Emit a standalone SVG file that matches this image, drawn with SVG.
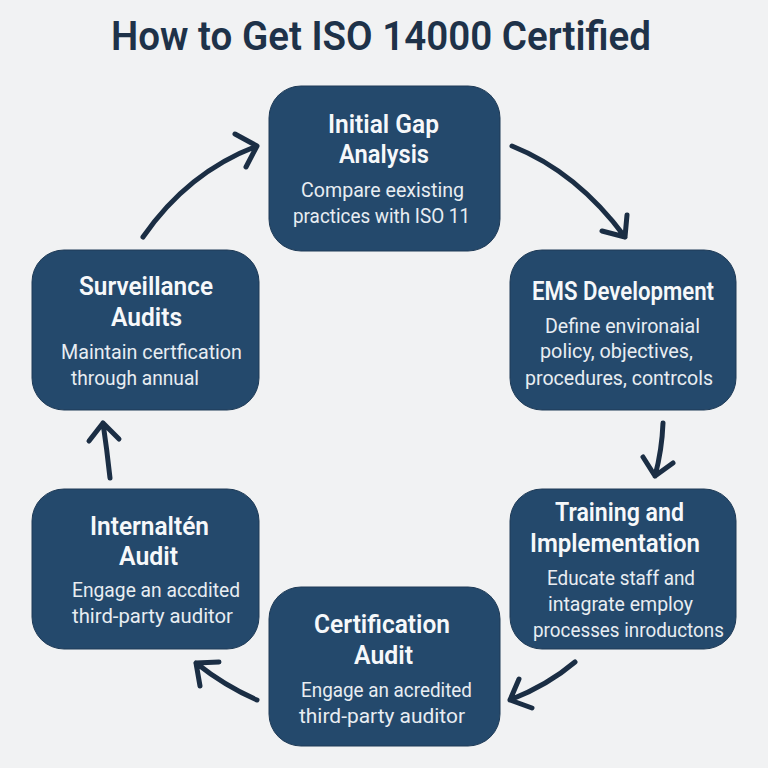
<svg xmlns="http://www.w3.org/2000/svg" width="768" height="768" viewBox="0 0 768 768">
<style>
.box{fill:#24496c;stroke:#1e3a56;stroke-width:1}
.h{font:600 25px Roboto,"Liberation Sans",sans-serif;fill:#f6f8fa}
.b{font:400 21px Roboto,"Liberation Sans",sans-serif;fill:#e8edf2}
.t{font:600 41px Roboto,"Liberation Sans",sans-serif;fill:#1e3249}
.a{fill:none;stroke:#1b2e44;stroke-width:5;stroke-linecap:round;stroke-linejoin:round}
</style>
<rect width="768" height="768" fill="#f1f2f3"/>
<text class="t" x="111" y="50" textLength="540" lengthAdjust="spacingAndGlyphs">How to Get ISO 14000 Certified</text>
<g id="connectors">
<path class="a" d="M512 146Q577 172 625 237M627 215L625 237L602 231"/>
<path class="a" d="M663 423Q662 450 655 476M643 457L655 476L673 463"/>
<path class="a" d="M575 662Q548 685 510 700M519 679L510 700L532 708"/>
<path class="a" d="M257 700Q225 686 196 663M219 662L196 663L200 686"/>
<path class="a" d="M110 478Q107 450 103 423M89 441L103 423L119 439"/>
<path class="a" d="M143 237Q188 172 257 146M235 134L257 146L246 167"/>
</g>
<g id="node-gap-analysis"><rect class="box" x="269" y="86" width="231" height="165" rx="32"/>
<text class="h" x="328" y="133" textLength="111" lengthAdjust="spacingAndGlyphs">Initial Gap</text>
<text class="h" x="339" y="163" textLength="90" lengthAdjust="spacingAndGlyphs">Analysis</text>
<text class="b" x="301" y="197" textLength="163" lengthAdjust="spacingAndGlyphs">Compare eexisting</text>
<text class="b" x="293" y="223" textLength="177" lengthAdjust="spacingAndGlyphs">practices with ISO 11</text></g>
<g id="node-ems"><rect class="box" x="510" y="250" width="226" height="160" rx="32"/>
<text class="h" x="532" y="300" textLength="182" lengthAdjust="spacingAndGlyphs">EMS Development</text>
<text class="b" x="545" y="333" textLength="155" lengthAdjust="spacingAndGlyphs">Define environaial</text>
<text class="b" x="540" y="358" textLength="153" lengthAdjust="spacingAndGlyphs">policy, objectives,</text>
<text class="b" x="525" y="385" textLength="188" lengthAdjust="spacingAndGlyphs">procedures, contrcols</text></g>
<g id="node-training"><rect class="box" x="510" y="489" width="226" height="160" rx="32"/>
<text class="h" x="555" y="521" textLength="129" lengthAdjust="spacingAndGlyphs">Training and</text>
<text class="h" x="530" y="552" textLength="170" lengthAdjust="spacingAndGlyphs">Implementation</text>
<text class="b" x="547" y="585" textLength="148" lengthAdjust="spacingAndGlyphs">Educate staff and</text>
<text class="b" x="548" y="611" textLength="145" lengthAdjust="spacingAndGlyphs">intagrate employ</text>
<text class="b" x="533" y="637" textLength="191" lengthAdjust="spacingAndGlyphs">processes inroductons</text></g>
<g id="node-certification"><rect class="box" x="269" y="587" width="231" height="159" rx="32"/>
<text class="h" x="314" y="633" textLength="136" lengthAdjust="spacingAndGlyphs">Certification</text>
<text class="h" x="354" y="664" textLength="59" lengthAdjust="spacingAndGlyphs">Audit</text>
<text class="b" x="301" y="697" textLength="171" lengthAdjust="spacingAndGlyphs">Engage an acredited</text>
<text class="b" x="299" y="723" textLength="166" lengthAdjust="spacingAndGlyphs">third-party auditor</text></g>
<g id="node-internal"><rect class="box" x="32" y="489" width="227" height="160" rx="32"/>
<text class="h" x="90" y="535" textLength="119" lengthAdjust="spacingAndGlyphs">Internaltén</text>
<text class="h" x="119" y="565" textLength="59" lengthAdjust="spacingAndGlyphs">Audit</text>
<text class="b" x="72" y="597" textLength="168" lengthAdjust="spacingAndGlyphs">Engage an accdited</text>
<text class="b" x="72" y="623" textLength="161" lengthAdjust="spacingAndGlyphs">third-party auditor</text></g>
<g id="node-surveillance"><rect class="box" x="32" y="250" width="227" height="160" rx="32"/>
<text class="h" x="79" y="295" textLength="134" lengthAdjust="spacingAndGlyphs">Surveillance</text>
<text class="h" x="111" y="326" textLength="71" lengthAdjust="spacingAndGlyphs">Audits</text>
<text class="b" x="61" y="359" textLength="181" lengthAdjust="spacingAndGlyphs">Maintain certfication</text>
<text class="b" x="71" y="385" textLength="128" lengthAdjust="spacingAndGlyphs">through annual</text></g>
</svg>
